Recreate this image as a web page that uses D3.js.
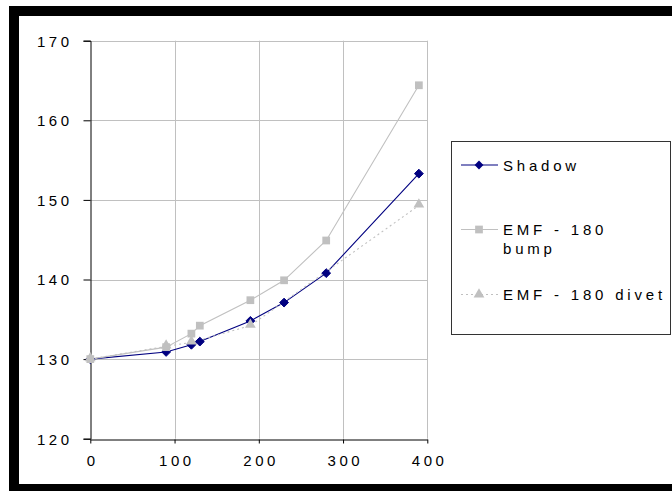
<!DOCTYPE html>
<html>
<head>
<meta charset="utf-8">
<script src="https://cdn.jsdelivr.net/npm/d3@7/dist/d3.min.js"></script>
<style>
  html, body { margin: 0; padding: 0; background: #fff; }
  svg { display: block; }
  text { font-family: Arial, "Liberation Sans", sans-serif; fill: #000; }
</style>
</head>
<body>
<svg id="chart" width="672" height="491"></svg>
<script>
// Shared x positions for the first two series
const xValues = [0, 90, 120, 130, 190, 230, 280, 390];
const shadowValues = [130, 130.9, 131.8, 132.2, 134.8, 137.1, 140.8, 153.3];
const bumpValues = [130, 131.5, 133.2, 134.2, 137.4, 139.9, 144.9, 164.4];
const divetX = [0, 90, 120, 190, 390];
const divetValues = [130, 131.6, 132.1, 134.2, 149.3];

const xTicks = [0, 100, 200, 300, 400];
const yTicks = [120, 130, 140, 150, 160, 170];

const seriesNames = ["Shadow", ["EMF - 180", "bump"], "EMF - 180 divet"];

const svg = d3.select("#chart");

// Outer frame: thick black border
svg.append("rect").attr("x", 9).attr("y", 6).attr("width", 700).attr("height", 500).attr("fill", "#000");
svg.append("rect").attr("x", 19).attr("y", 16).attr("width", 700).attr("height", 468).attr("fill", "#fff");

const x = d3.scaleLinear().domain([0, 400]).range([90.3, 427.3]);
const y = d3.scaleLinear().domain([120, 170]).range([438.7, 40.7]);

const grid = svg.append("g");
// Horizontal gridlines
grid.selectAll("line.h").data(yTicks.slice(1)).join("line")
  .attr("x1", x(0)).attr("x2", x(400))
  .attr("y1", d => Math.round(y(d)) + 0.5).attr("y2", d => Math.round(y(d)) + 0.5)
  .attr("stroke", "#c0c0c0").attr("stroke-width", 1);
// Vertical gridlines
grid.selectAll("line.v").data(xTicks.slice(1)).join("line")
  .attr("x1", d => Math.round(x(d)) + 0.5).attr("x2", d => Math.round(x(d)) + 0.5)
  .attr("y1", y(170)).attr("y2", y(120))
  .attr("stroke", "#c0c0c0").attr("stroke-width", 1);

// Y axis
const yAxis = d3.axisLeft(y).tickValues(yTicks).tickSize(7).tickPadding(12);
const gy = svg.append("g").attr("transform", `translate(${Math.round(x(0)) + 0.5},0)`).call(yAxis);
gy.select(".domain").attr("stroke", "#000");
gy.selectAll(".tick line").attr("stroke", "#000");
gy.selectAll(".tick text")
  .style("font-size", "15px").style("letter-spacing", "3.5px")
  .attr("x", -18).attr("dy", "0.36em")
  .attr("font-family", "Arial, 'Liberation Sans', sans-serif").attr("fill", "#000");

// X axis
const xAxis = d3.axisBottom(x).tickValues(xTicks).tickSize(4).tickSizeOuter(0).tickPadding(10);
const gx = svg.append("g").attr("transform", `translate(0,${Math.round(y(120)) + 0.5})`).call(xAxis);
gx.select(".domain").attr("stroke", "#000");
gx.selectAll(".tick line").attr("stroke", "#000");
gx.selectAll(".tick text")
  .style("font-size", "15px").style("letter-spacing", "3.5px")
  .attr("x", 1.75).attr("y", 16).attr("dy", "0.71em")
  .attr("font-family", "Arial, 'Liberation Sans', sans-serif").attr("fill", "#000");

const line = d3.line().x(d => x(d[0])).y(d => y(d[1]));

const shadowPts = xValues.map((v, i) => [v, shadowValues[i]]);
const bumpPts = xValues.map((v, i) => [v, bumpValues[i]]);
const divetPts = divetX.map((v, i) => [v, divetValues[i]]);

const navy = "#000080";
const silver = "#c0c0c0";

const diamond = d3.symbol().type(d3.symbolDiamond2).size(50);
const square = d3.symbol().type(d3.symbolSquare).size(60);
const triangle = d3.symbol().type(d3.symbolTriangle).size(50);

const plot = svg.append("g");
plot.append("path").attr("d", line(shadowPts)).attr("fill", "none").attr("stroke", navy).attr("stroke-width", 1.1);
plot.append("path").attr("d", line(bumpPts)).attr("fill", "none").attr("stroke", silver).attr("stroke-width", 1.1);
plot.append("path").attr("d", line(divetPts)).attr("fill", "none").attr("stroke", silver).attr("stroke-width", 1.1).attr("stroke-dasharray", "2,3");

plot.selectAll("path.sh").data(shadowPts).join("path").attr("class", "sh")
  .attr("transform", d => `translate(${x(d[0])},${y(d[1])})`)
  .attr("d", diamond).attr("fill", navy).attr("stroke", navy);
plot.selectAll("path.bu").data(bumpPts).join("path").attr("class", "bu")
  .attr("transform", d => `translate(${x(d[0])},${y(d[1])})`)
  .attr("d", square).attr("fill", silver);
plot.selectAll("path.dv").data(divetPts).join("path").attr("class", "dv")
  .attr("transform", d => `translate(${x(d[0])},${y(d[1]) - 1})`)
  .attr("d", triangle).attr("fill", silver);

// Legend
const lg = svg.append("g");
lg.append("rect").attr("x", 451.5).attr("y", 141.5).attr("width", 219).attr("height", 193)
  .attr("fill", "#fff").attr("stroke", "#333").attr("stroke-width", 1);

const legendRows = [
  { y: 165, color: navy, dash: null, sym: diamond, fill: navy, labelY: 170.5 },
  { y: 229.5, color: silver, dash: null, sym: square, fill: silver, labelY: 235 },
  { y: 294.5, color: silver, dash: "2,3", sym: triangle, fill: silver, labelY: 300 }
];
legendRows.forEach((r, i) => {
  lg.append("line").attr("x1", 461).attr("x2", 498).attr("y1", r.y).attr("y2", r.y)
    .attr("stroke", r.color).attr("stroke-width", 1.1).attr("stroke-dasharray", r.dash);
  lg.append("path").attr("transform", `translate(479,${r.y})`).attr("d", r.sym).attr("fill", r.fill);
  const name = seriesNames[i];
  const lines = Array.isArray(name) ? name : [name];
  const t = lg.append("text").attr("x", 503).attr("y", r.labelY)
    .style("font-size", "15px").style("letter-spacing", "3.8px");
  lines.forEach((s, k) => {
    t.append("tspan").attr("x", 503).attr("y", r.labelY + k * 18.5).text(s);
  });
});
</script>
</body>
</html>
